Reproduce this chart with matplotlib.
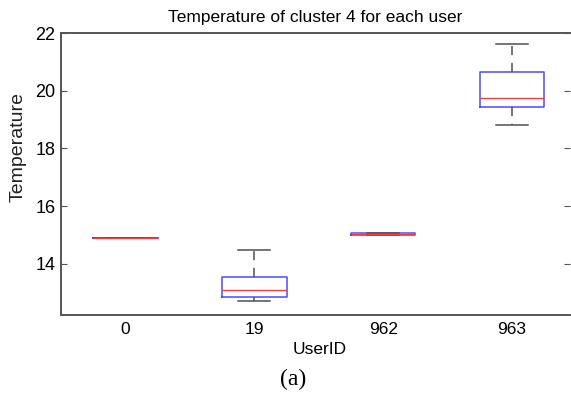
import matplotlib
matplotlib.use("Agg")
import matplotlib.pyplot as plt

# valores (cuartiles y bigotes por usuario)
users = ["0", "19", "962", "963"]
q1 = [14.90, 12.85, 14.99, 19.42]
med = [14.90, 13.10, 15.04, 19.76]
q3 = [14.90, 13.54, 15.08, 20.64]
whislo = [14.90, 12.70, 14.99, 18.82]
whishi = [14.90, 14.48, 15.08, 21.62]
yticks = [14, 16, 18, 20, 22]

plt.rcParams["font.family"] = ["Liberation Sans", "DejaVu Sans"]

stats = [dict(label=u, q1=a, med=m, q3=b, whislo=lo, whishi=hi, fliers=[])
         for u, a, m, b, lo, hi in zip(users, q1, med, q3, whislo, whishi)]

fig = plt.figure(figsize=(5.71, 3.94), dpi=100)
ax = fig.add_axes([61 / 571, 1 - 315 / 394, 509 / 571, 282 / 394])

ax.bxp(stats, positions=range(1, len(users) + 1), widths=0.5,
       boxprops=dict(color="#4a4aff", lw=1.1),
       medianprops=dict(color="#ff3a3a", lw=1.0),
       whiskerprops=dict(color="#505050", lw=1.1, ls=(0, (6, 5))),
       capprops=dict(color="#505050", lw=1.1),
       capwidths=0.25, showfliers=False)

ax.set_xlim(0.5, 4.45)
ax.set_ylim(12.23, 22)
ax.set_yticks(yticks)
ax.set_xticks(range(1, len(users) + 1))
ax.set_xticklabels(users)

for s in ["left", "bottom", "top"]:
    ax.spines[s].set_color("#555555")
    ax.spines[s].set_linewidth(1.4)
ax.spines["right"].set_visible(False)
ax.tick_params(axis="y", direction="in", length=4, color="#555555",
               labelsize=13, right=True, pad=4)
ax.tick_params(axis="x", length=0, labelsize=12.5, pad=5)

ax.set_title("Temperature of cluster 4 for each user", fontsize=12.5, pad=8)
ax.set_xlabel("UserID", fontsize=12.5)
ax.set_ylabel("Temperature", fontsize=14, color="#222222")
ax.xaxis.set_label_coords(0.509, -0.095)
ax.yaxis.set_label_coords(-0.068, 0.594)

fig.text(293 / 571, 1 - 379 / 394, "(a)", ha="center", va="center",
         fontsize=17, family=["Liberation Serif", "DejaVu Serif"])

fig.savefig("out.png", dpi=100, facecolor="white")
